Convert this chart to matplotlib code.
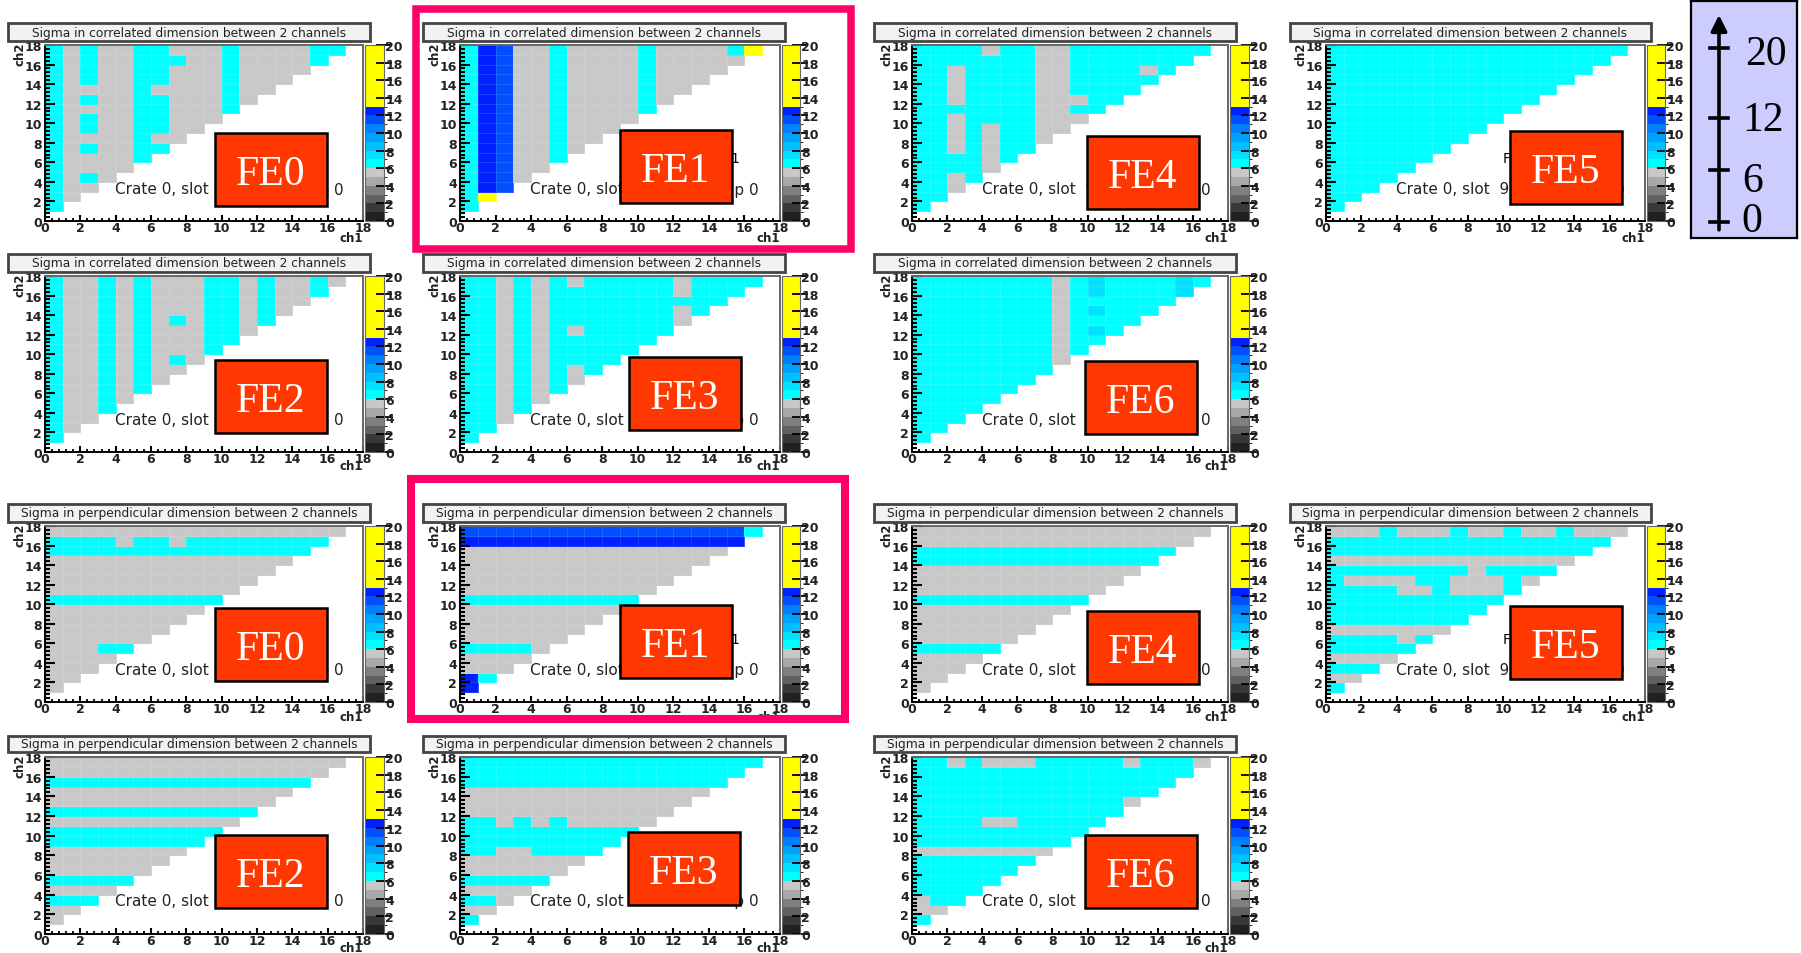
"""Grid of channel-pair sigma maps (FE0..FE6), correlated and perpendicular."""
import matplotlib
matplotlib.use("Agg")
import matplotlib.pyplot as plt
import numpy as np
from matplotlib.colors import BoundaryNorm, ListedColormap
from matplotlib.patches import Rectangle

W, H = 1801, 954

# every map: rows from ch2 bin 17 down to ch2 bin 1, one hex digit per ch1 bin = sigma bin
CORR_FE0 = ["65655665556555566", "6565566655655556", "656556655565555", "65655665556555",
            "6555565555655", "656556655565", "65555665556", "6565566555", "656556655",
            "65555655", "6565566", "655556", "65555", "6565", "655", "65", "6"]
CORR_FE1 = ["6cb5565555655556d", "6cb5565555655555", "6cb556555565555", "6cb55655556555",
            "6cb5565555655", "6cb556555565", "6cb55655556", "6cb5565555", "6cb556555",
            "6cb55655", "6cb5565", "6cb556", "6cb55", "6cb5", "6cb", "6d", "6"]
CORR_FE2 = ["65565655566565565", "6556565556656556", "655656555665655", "65565655566565",
            "6556565656656", "655656555665", "65565655566", "6556565556", "655656565",
            "65565655", "6556565", "655656", "65565", "6556", "655", "65", "6"]
CORR_FE3 = ["66565656666656666", "6656566666665666", "665656666666666", "66565666666656",
            "6656566666665", "665656566666", "66565666666", "6656566666", "665656666",
            "66565656", "6656565", "665656", "66565", "6656", "665", "66", "6"]
CORR_FE4 = ["66665665566666666", "6666666556666666", "665666655666656", "66566665566666",
            "6656666556666", "665666655566", "66666665566", "6656666555", "665656655",
            "66565665", "6656566", "666656", "66665", "6656", "665", "66", "6"]
CORR_FE5 = ["66666666666666666", "6666666666666666", "666666666666666", "66666666666666",
            "6666666666666", "666666666666", "66666666666", "6666666666", "666666666",
            "66666666", "6666666", "666666", "66666", "6666", "666", "66", "6"]
CORR_FE6 = ["66666666567666676", "6666666656766667", "666666665666666", "66666666567666",
            "6666666656666", "666666665676", "66666666566", "6666666656", "666666665",
            "66666666", "6666666", "666666", "66666", "6666", "666", "66", "6"]

PERP_FE0 = ["55555555555555555", "6666566566666666", "666666666666666", "55555555555555",
            "5555555555555", "555555555555", "55555555555", "6666666666", "555555555",
            "55555555", "5555555", "555555", "55566", "5555", "555", "55", "5"]
PERP_FE1 = ["bbbbbbbbbbbbbbbb6", "cccccccccccccccc", "555555555555555", "55555555555555",
            "5555555555555", "555555555555", "55555555555", "6666666666", "555555555",
            "55555555", "5555555", "555555", "66665", "5555", "555", "c6", "c"]
PERP_FE2 = ["55555555555555555", "5555555555555555", "666666666666666", "55555555555555",
            "5555555555555", "666666666666", "55555555555", "6666666666", "666666666",
            "55555555", "5555555", "555555", "66666", "5555", "666", "55", "5"]
PERP_FE3 = ["66666666666666666", "6666666666666666", "666666666666666", "55555555555555",
            "5555555555555", "555555555555", "66565655555", "6666666666", "666666666",
            "66556666", "5555555", "555555", "66666", "5555", "665", "55", "6"]
PERP_FE4 = ["55555555555555555", "5555555555555555", "666666666666666", "66666666666666",
            "5555555555555", "555555555555", "55555555555", "6666666666", "555555555",
            "55555555", "5555555", "555555", "66666", "5555", "555", "55", "5"]
PERP_FE5 = ["55565556556556555", "6666666666666666", "666666666666666", "55555555555555",
            "6666666656666", "655556655565", "66665565556", "6666666666", "666666666",
            "66666666", "5555555", "666656", "66666", "5555", "666", "55", "6"]
PERP_FE6 = ["66565556666656665", "6666666666666666", "666666666666666", "66666666666666",
            "6666666666665", "666666666666", "66665566666", "6666666666", "666666666",
            "55555555", "6666666", "666666", "66666", "6666", "566", "55", "6"]

TITLE_CORR = "Sigma in correlated dimension between 2 channels"
TITLE_PERP = "Sigma in perpendicular dimension between 2 channels"

COLOR_LEVELS = [0, 1, 2, 3, 4, 5, 6, 7, 8, 9, 10, 11, 12, 13, 20]
LEVEL_COLORS = ["#202020", "#383838", "#606060", "#808080", "#a8a8a8", "#c8c8c8",
                "#00ffff", "#00e2ff", "#00bfff", "#00a0ff", "#0080ff", "#0050ff",
                "#0020ff", "#ffff00"]

SCALE_TICKS = [0, 6, 12, 20]

# axes pixel boxes: left, right per column group, top, bottom per row
X_SLOTS = {"a": (45, 363), "b": (460, 780), "c": (912, 1228), "d": (1326, 1645)}
CB_SLOTS = {"a": (365, 384), "b": (782, 800), "c": (1230, 1249), "d": (1647, 1665)}
TITLE_X = {"a": (8, 370), "b": (423, 785), "c": (874, 1236), "d": (1290, 1651)}
Y_ROWS = [(46, 222), (277, 453), (527, 703), (758, 935)]
TITLE_Y = [(24, 42), (255, 273), (505, 523), (737, 753)]
CH1_DY = [16, 14, 15, 14]

# name, data, title, slot, row, FE box left/top
PANELS = [
    ("FE0", CORR_FE0, TITLE_CORR, "a", 0, 215, 134),
    ("FE1", CORR_FE1, TITLE_CORR, "b", 0, 620, 131),
    ("FE4", CORR_FE4, TITLE_CORR, "c", 0, 1087, 137),
    ("FE5", CORR_FE5, TITLE_CORR, "d", 0, 1510, 132),
    ("FE2", CORR_FE2, TITLE_CORR, "a", 1, 215, 361),
    ("FE3", CORR_FE3, TITLE_CORR, "b", 1, 629, 358),
    ("FE6", CORR_FE6, TITLE_CORR, "c", 1, 1085, 362),
    ("FE0", PERP_FE0, TITLE_PERP, "a", 2, 215, 609),
    ("FE1", PERP_FE1, TITLE_PERP, "b", 2, 620, 606),
    ("FE4", PERP_FE4, TITLE_PERP, "c", 2, 1087, 612),
    ("FE5", PERP_FE5, TITLE_PERP, "d", 2, 1510, 607),
    ("FE2", PERP_FE2, TITLE_PERP, "a", 3, 215, 836),
    ("FE3", PERP_FE3, TITLE_PERP, "b", 3, 628, 833),
    ("FE6", PERP_FE6, TITLE_PERP, "c", 3, 1085, 836),
]

cmap = ListedColormap(LEVEL_COLORS)
norm = BoundaryNorm(COLOR_LEVELS, cmap.N)


def px_axes(fig, x0, x1, y0, y1, **kw):
    return fig.add_axes([x0 / W, 1 - y1 / H, (x1 - x0) / W, (y1 - y0) / H], **kw)


def to_grid(rows):
    grid = np.full((18, 18), np.nan)
    for i, row in enumerate(rows):
        ybin = 17 - i
        for xbin, ch in enumerate(row):
            grid[ybin, xbin] = int(ch, 16) + 0.5
    return np.ma.masked_invalid(grid)


def draw_panel(fig, overlay, name, rows, title, slot, row, box_x, box_y):
    x0, x1 = X_SLOTS[slot]
    y0, y1 = Y_ROWS[row]
    ax = px_axes(fig, x0, x1, y0, y1)
    edges = np.arange(19)
    mesh = ax.pcolormesh(edges, edges, to_grid(rows), cmap=cmap, norm=norm,
                         edgecolors=(1, 1, 1, 0.12), linewidth=0.6)
    ax.set_xlim(0, 18); ax.set_ylim(0, 18)
    ax.set_xticks(range(0, 19, 2)); ax.set_yticks(range(0, 19, 2))
    ax.set_xticks(np.arange(0, 18.1, 0.4), minor=True)
    ax.set_yticks(np.arange(0, 18.1, 0.4), minor=True)
    ax.tick_params(axis="y", which="major", direction="in", length=7, width=1.5,
                   labelsize=9, pad=2)
    ax.tick_params(axis="y", which="minor", direction="in", length=3.5, width=1.5)
    ax.tick_params(axis="x", which="major", direction="in", length=4, width=1.5,
                   labelsize=9, pad=0)
    ax.tick_params(axis="x", which="minor", direction="in", length=2, width=1.3)
    for lab in ax.get_xticklabels() + ax.get_yticklabels():
        lab.set_fontweight("bold")
        lab.set_color("#222222")
    for side in ("top", "right"):
        ax.spines[side].set_color("#666666")
    for spine in ax.spines.values():
        spine.set_linewidth(1.4)

    cx0, cx1 = CB_SLOTS[slot]
    cax = px_axes(fig, cx0, cx1, y0, y1)
    cb = fig.colorbar(mesh, cax=cax, spacing="proportional", ticks=range(0, 21, 2))
    cb.outline.set_edgecolor("#666666")
    cb.ax.tick_params(direction="inout", length=12, width=1.3, labelsize=9, pad=-5)
    for lab in cb.ax.get_yticklabels():
        lab.set_fontweight("bold")
        lab.set_color("#222222")

    # title box + axis names go on the overlay so they sit above the axes
    tx0, tx1 = TITLE_X[slot]
    ty0, ty1 = TITLE_Y[row]
    overlay.add_patch(Rectangle((tx0, ty0), tx1 - tx0, ty1 - ty0, fc="#f2f2f2", ec="#444444",
                                lw=2, zorder=2))
    overlay.text((tx0 + tx1) / 2, (ty0 + ty1) / 2, title, ha="center", va="center",
                 fontsize=8.8, color="#222222", zorder=3)
    overlay.text(x1, y1 + CH1_DY[row], "ch1", ha="right", va="center", fontsize=8.5,
                 fontweight="bold", color="#222222", zorder=3)
    overlay.text(x0 - 25, y0 + 8, "ch2", ha="center", va="center", rotation=90,
                 fontsize=8.5, fontweight="bold", color="#222222", zorder=3)

    # label line under the FE box, only its two ends peek out
    overlay.text(x0 + 70, y0 + 144, "Crate 0, slot  9", ha="left", va="center",
                 fontsize=11, color="#222222", zorder=3)
    overlay.text(x0 + 299, y0 + 144, "chip 0", ha="right", va="center",
                 fontsize=11, color="#222222", zorder=3)
    if name == "FE1" and row in (0, 2):
        overlay.text(x0 + 275, y0 + 113, "1", ha="center", va="center", fontsize=10, zorder=3)
    if name == "FE5":
        overlay.text(x0 + 181, y0 + 113, "F", ha="center", va="center", fontsize=10, zorder=3)

    overlay.add_patch(Rectangle((box_x, box_y), 112, 73, fc="#ff3700", ec="black", lw=1.8,
                                zorder=4))
    overlay.text(box_x + 56, box_y + 36, name, ha="center", va="center_baseline", fontsize=30,
                 family="Liberation Serif", color="white", zorder=5)


def draw_scale(fig):
    ax = px_axes(fig, 1691, 1797, 2, 239)
    ax.set_xlim(0, 106)
    ax.set_ylim(-1.84, 25.4)
    ax.set_facecolor("#ccccff")
    ax.set_xticks([]); ax.set_yticks([])
    for spine in ax.spines.values():
        spine.set_linewidth(1.6)
    ax.annotate("", xy=(28, 23.8), xytext=(28, -0.9),
                arrowprops=dict(arrowstyle="-|>", lw=2.6, color="black", mutation_scale=24,
                                shrinkA=0, shrinkB=0))
    label_x = [61, 62, 72, 75]
    label_dy = [0.1, -1.3, -0.3, -0.7]
    for v, lx, dy in zip(SCALE_TICKS, label_x, label_dy):
        ax.plot([19, 37], [v, v], color="black", lw=2.6)
        ax.text(lx, v + dy, str(v), ha="center", va="center", fontsize=30,
                family="Liberation Serif", color="black")


def main():
    fig = plt.figure(figsize=(W / 100, H / 100), dpi=100, facecolor="white")
    overlay = fig.add_axes([0, 0, 1, 1], zorder=10)
    overlay.set_xlim(0, W); overlay.set_ylim(H, 0)
    overlay.axis("off"); overlay.patch.set_alpha(0)

    for p in PANELS:
        draw_panel(fig, overlay, *p)
    draw_scale(fig)

    # highlight frames around both FE1 maps
    overlay.add_patch(Rectangle((415.5, 10), 435, 240, fc="none", ec="#ff0066", lw=5.4, zorder=6))
    overlay.add_patch(Rectangle((410.5, 480), 434.5, 240, fc="none", ec="#ff0066", lw=5.8, zorder=6))

    fig.savefig("out.png", dpi=100)


if __name__ == "__main__":
    main()
